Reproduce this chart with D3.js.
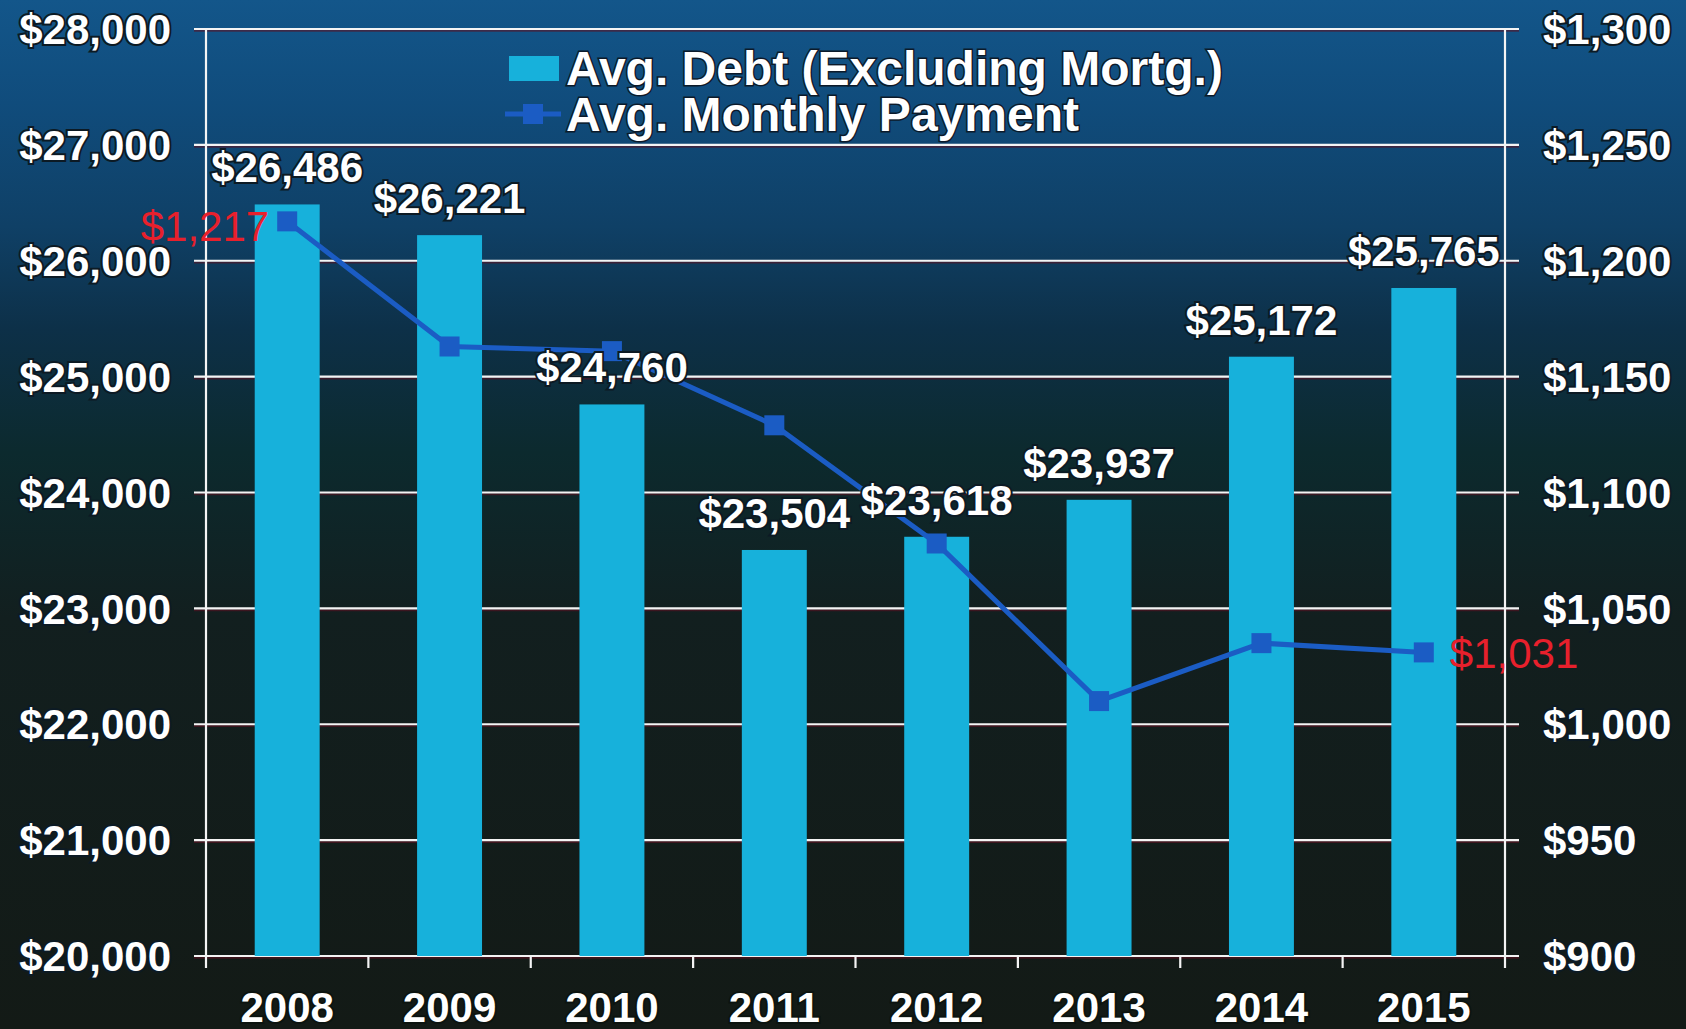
<!DOCTYPE html>
<html><head><meta charset="utf-8">
<script src="https://cdn.jsdelivr.net/npm/d3@7"></script>
<style>
html,body{margin:0;padding:0;background:#131a14;}
svg{display:block;}
text{font-family:"Liberation Sans",Arial,sans-serif;}
</style></head>
<body>
<svg id="chart" width="1686" height="1029"></svg>
<script>
const years = ["2008","2009","2010","2011","2012","2013","2014","2015"];
const debt = [26486, 26221, 24760, 23504, 23618, 23937, 25172, 25765];
const payment = [1217, 1163, 1161, 1129, 1078, 1010, 1035, 1031];
const leftTicks = [20000,21000,22000,23000,24000,25000,26000,27000,28000];
const rightTicks = [900,950,1000,1050,1100,1150,1200,1250,1300];
const seriesNames = ["Avg. Debt (Excluding Mortg.)", "Avg. Monthly Payment"];

const W = 1686, H = 1029;
const m = {left:206, right:1505, top:29, bottom:956};
const svg = d3.select("#chart");

const defs = svg.append("defs");
const grad = defs.append("linearGradient").attr("id","bg").attr("x1",0).attr("y1",0).attr("x2",0).attr("y2",1);
[[0,"#13568a"],[0.1,"#104c7c"],[0.22,"#0f4066"],[0.32,"#0d3048"],[0.44,"#0c2a2e"],[0.6,"#121f1f"],[1,"#131a16"]]
  .forEach(([o,c])=>grad.append("stop").attr("offset",o).attr("stop-color",c));
svg.append("rect").attr("width",W).attr("height",H).attr("fill","url(#bg)");

const x = d3.scaleBand().domain(years).range([m.left, m.right]).paddingInner(0).paddingOuter(0);
const yL = d3.scaleLinear().domain([20000,28000]).range([m.bottom, m.top]);
const yR = d3.scaleLinear().domain([900,1300]).range([m.bottom, m.top]);
const fmt = d3.format("$,");

// gridlines
const gridG = svg.append("g");
gridG.selectAll("line.g").data(leftTicks).join("line")
  .attr("x1", m.left-12).attr("x2", m.right+14)
  .attr("y1", d=>yL(d)+1.8).attr("y2", d=>yL(d)+1.8)
  .attr("stroke","#5a1020").attr("stroke-width",2).attr("opacity",0.6);
gridG.selectAll("line.w").data(leftTicks).join("line")
  .attr("x1", m.left-12).attr("x2", m.right+14)
  .attr("y1", d=>yL(d)).attr("y2", d=>yL(d))
  .attr("stroke","#f4f4f4").attr("stroke-width",2.2);

// bars
const bw = x.bandwidth()*0.4;
svg.append("g").selectAll("rect").data(years).join("rect")
  .attr("x", (d)=>x(d)+x.bandwidth()/2-bw/2)
  .attr("width", bw)
  .attr("y", (d,i)=>yL(debt[i]))
  .attr("height", (d,i)=>yL(20000)-yL(debt[i]))
  .attr("fill","#17b1db");

// axes lines
const axG = svg.append("g").attr("stroke","#f4f4f4").attr("stroke-width",2.2);
axG.append("line").attr("x1",m.left).attr("x2",m.left).attr("y1",m.top).attr("y2",m.bottom+12);
axG.append("line").attr("x1",m.right).attr("x2",m.right).attr("y1",m.top).attr("y2",m.bottom+12);
axG.selectAll("line.t").data(years.slice(1)).join("line")
  .attr("x1",d=>x(d)).attr("x2",d=>x(d)).attr("y1",m.bottom).attr("y2",m.bottom+12);

// bottom axis
const xAxis = svg.append("g").attr("transform",`translate(0,${m.bottom})`)
  .call(d3.axisBottom(x).tickSize(0).tickPadding(0));
xAxis.select(".domain").remove();
xAxis.selectAll("text").attr("y",66).attr("dy",0)
  .attr("font-size",42).attr("font-weight","bold").attr("fill","#fff")
  .attr("stroke","#0c1410").attr("stroke-width",4).attr("paint-order","stroke")
  .style("font-family","'Liberation Sans',Arial,sans-serif");

// left axis
const lAxis = svg.append("g").attr("transform",`translate(${m.left},0)`)
  .call(d3.axisLeft(yL).tickValues(leftTicks).tickFormat(fmt).tickSize(0).tickPadding(35));
lAxis.select(".domain").remove();
lAxis.selectAll("text").attr("font-size",42).attr("font-weight","bold").attr("fill","#fff")
  .attr("dy","0.35em")
  .attr("stroke","#0c1a24").attr("stroke-width",4).attr("paint-order","stroke")
  .style("font-family","'Liberation Sans',Arial,sans-serif");

// right axis
const rAxis = svg.append("g").attr("transform",`translate(${m.right},0)`)
  .call(d3.axisRight(yR).tickValues(rightTicks).tickFormat(fmt).tickSize(0).tickPadding(38));
rAxis.select(".domain").remove();
rAxis.selectAll("text").attr("font-size",42).attr("font-weight","bold").attr("fill","#fff")
  .attr("dy","0.35em")
  .attr("stroke","#0c1a24").attr("stroke-width",4).attr("paint-order","stroke")
  .style("font-family","'Liberation Sans',Arial,sans-serif");

// line
const cx = d=>x(d)+x.bandwidth()/2;
const line = d3.line().x((d,i)=>cx(years[i])).y(d=>yR(d));
svg.append("path").datum(payment).attr("d",line)
  .attr("fill","none").attr("stroke","#1b5cc4").attr("stroke-width",5);
svg.append("g").selectAll("rect").data(payment).join("rect")
  .attr("x",(d,i)=>cx(years[i])-10).attr("y",d=>yR(d)-10)
  .attr("width",20).attr("height",20).attr("fill","#1b5cc4");

// bar labels
svg.append("g").selectAll("text").data(debt).join("text")
  .attr("x",(d,i)=>cx(years[i])).attr("y",d=>yL(d)-22)
  .attr("text-anchor","middle").attr("font-size",42).attr("font-weight","bold")
  .attr("fill","#fff").attr("stroke","#0c1a24").attr("stroke-width",4).attr("paint-order","stroke")
  .text(d=>fmt(d));

// red labels for first and last payment
svg.append("text").attr("x",cx(years[0])-18).attr("y",yR(payment[0])+20)
  .attr("text-anchor","end").attr("font-size",42).attr("fill","#e8202c")
  .text(fmt(payment[0]));
svg.append("text").attr("x",cx(years[7])+26).attr("y",yR(payment[7])+16)
  .attr("text-anchor","start").attr("font-size",42).attr("fill","#e8202c")
  .text(fmt(payment[7]));

// legend
const lg = svg.append("g");
lg.append("rect").attr("x",509).attr("y",56).attr("width",50).attr("height",25).attr("fill","#17b1db");
lg.append("line").attr("x1",505).attr("x2",561).attr("y1",114).attr("y2",114).attr("stroke","#1b5cc4").attr("stroke-width",5);
lg.append("rect").attr("x",523).attr("y",104).attr("width",20).attr("height",20).attr("fill","#1b5cc4");
lg.selectAll("text").data(seriesNames).join("text")
  .attr("x",566).attr("y",(d,i)=>85+i*46)
  .attr("font-size",48).attr("font-weight","bold").attr("fill","#fff")
  .attr("stroke","#0c1a2a").attr("stroke-width",3).attr("paint-order","stroke")
  .text(d=>d);
</script>
</body></html>
